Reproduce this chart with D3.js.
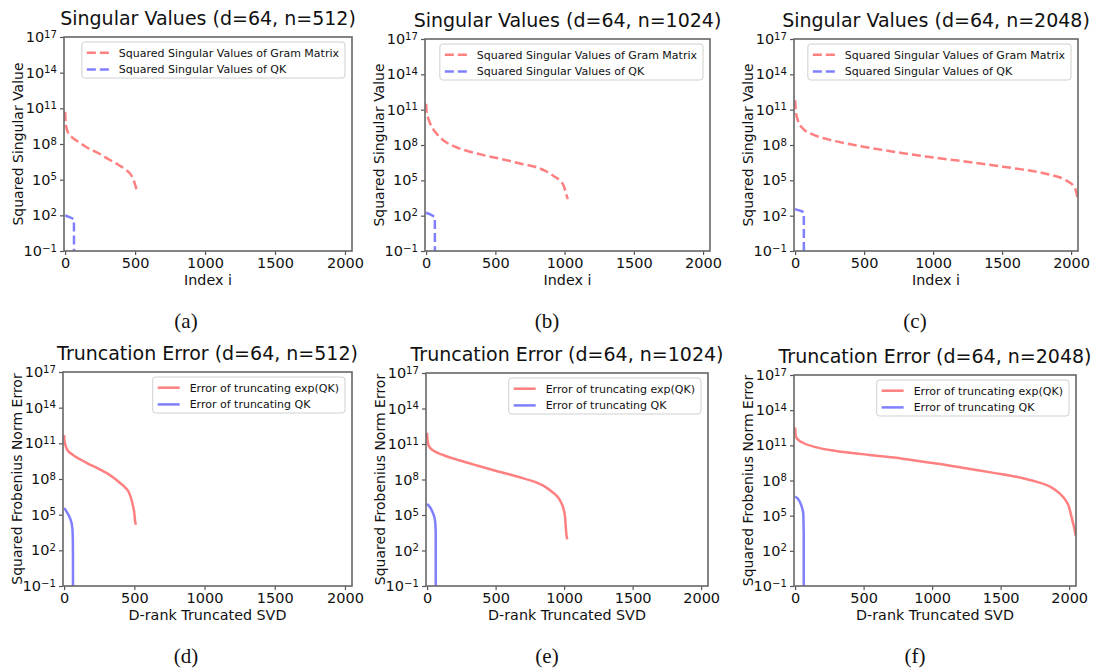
<!DOCTYPE html>
<html>
<head>
<meta charset="utf-8">
<script src="https://cdn.jsdelivr.net/npm/d3@7"></script>
<style>
  body { margin: 0; background: #fff; }
  svg { display: block; }
</style>
</head>
<body>
<svg id="fig" width="1093" height="668"></svg>
<script>
// --- DATA : [index, log10(value)] ---
const gramSV512 = [[0,10.7],[3,10.0],[8,9.45],[20,9.0],[50,8.55],[80,8.3],[150,7.75],[243,7.2],[314,6.7],[380,6.25],[432,5.85],[465,5.5],[485,5.1],[500,4.6],[511,4.1]];
const qkSV512 = [[0,2.0],[20,1.9],[40,1.8],[63,1.65],[64,-12]];

const gramSV1024 = [[0,11.5],[3,10.9],[12,10.4],[30,9.8],[48,9.4],[80,8.9],[119,8.45],[200,7.9],[310,7.45],[430,7.1],[548,6.8],[670,6.45],[786,6.15],[870,5.75],[929,5.3],[970,4.95],[995,4.5],[1012,3.8],[1023,3.4]];
const qkSV1024 = [[0,2.25],[30,2.1],[55,1.95],[63,1.9],[64,-12]];

const gramSV2048 = [[0,11.8],[3,11.2],[7,10.7],[20,10.1],[36,9.7],[60,9.35],[108,9.0],[170,8.7],[253,8.43],[360,8.15],[494,7.86],[640,7.57],[783,7.3],[960,7.0],[1145,6.73],[1330,6.45],[1506,6.16],[1640,5.93],[1747,5.74],[1840,5.5],[1916,5.26],[1970,4.95],[2012,4.6],[2035,4.1],[2047,3.5]];
const qkSV2048 = [[0,2.55],[30,2.45],[60,2.3],[63,2.25],[64,-12]];

const errExp512 = [[0,11.7],[2,11.3],[5,11.05],[12,10.75],[23,10.45],[60,10.05],[106,9.7],[170,9.3],[246,8.85],[310,8.45],[364,8.0],[405,7.6],[434,7.3],[460,6.9],[481,6.2],[493,5.6],[500,5.1],[505,4.5],[511,4.15]];
const errQK512 = [[0,5.57],[10,5.4],[20,5.2],[35,4.9],[48,4.5],[56,4.1],[60,3.6],[62,2.8],[63,1.5],[64,-12]];

const errExp1024 = [[0,11.95],[2,11.5],[5,11.15],[12,10.85],[29,10.59],[70,10.3],[125,10.03],[240,9.6],[364,9.18],[480,8.8],[604,8.42],[710,8.07],[796,7.76],[860,7.4],[916,6.92],[955,6.5],[983,5.93],[998,5.4],[1007,4.8],[1012,4.0],[1017,3.3],[1023,2.95]];
const errQK1024 = [[0,5.93],[15,5.75],[29,5.51],[45,5.1],[58,4.52],[62,3.9],[63,3.39],[64,-12]];

const errExp2048 = [[0,12.52],[2,12.1],[7,11.71],[25,11.45],[60,11.2],[150,10.85],[301,10.51],[540,10.18],[783,9.86],[1030,9.45],[1265,9.0],[1450,8.65],[1627,8.29],[1760,7.9],[1867,7.43],[1930,6.9],[1976,6.29],[2000,5.7],[2012,5.15],[2030,4.3],[2040,3.8],[2047,3.3]];
const errQK2048 = [[0,6.63],[20,6.45],[36,6.14],[50,5.7],[60,5.15],[62,4.0],[63,3.44],[64,-12]];

const svLegend = ["Squared Singular Values of Gram Matrix", "Squared Singular Values of QK"];
const errLegend = ["Error of truncating exp(QK)", "Error of truncating QK"];

const xTicks = [0, 500, 1000, 1500, 2000];
const yTickExps = [-1, 2, 5, 8, 11, 14, 17];

// couleurs (rouge / bleu avec alpha 0.5)
const colors = ["#ff8080", "#8080ff"];
const font = "'DejaVu Sans', sans-serif";

// --- MISE EN PAGE ---
const panels = [
  { l: 64, r: 352, t: 37, b: 251, title: "Singular Values (d=64, n=512)", ylab: "Squared Singular Value", xlab: "Index i", cap: "(a)", capX: 186, capY: 328, series: [gramSV512, qkSV512], legend: svLegend, dashed: true },
  { l: 425, r: 710, t: 39, b: 251, title: "Singular Values (d=64, n=1024)", ylab: "Squared Singular Value", xlab: "Index i", cap: "(b)", capX: 547, capY: 328, series: [gramSV1024, qkSV1024], legend: svLegend, dashed: true },
  { l: 794, r: 1078, t: 39, b: 251, title: "Singular Values (d=64, n=2048)", ylab: "Squared Singular Value", xlab: "Index i", cap: "(c)", capX: 915, capY: 328, series: [gramSV2048, qkSV2048], legend: svLegend, dashed: true },
  { l: 63, r: 352, t: 372, b: 586, title: "Truncation Error (d=64, n=512)", ylab: "Squared Frobenius Norm Error", xlab: "D-rank Truncated SVD", cap: "(d)", capX: 186, capY: 663, series: [errExp512, errQK512], legend: errLegend, dashed: false },
  { l: 426, r: 708, t: 373, b: 586, title: "Truncation Error (d=64, n=1024)", ylab: "Squared Frobenius Norm Error", xlab: "D-rank Truncated SVD", cap: "(e)", capX: 547, capY: 663, series: [errExp1024, errQK1024], legend: errLegend, dashed: false },
  { l: 794, r: 1076, t: 375, b: 586, title: "Truncation Error (d=64, n=2048)", ylab: "Squared Frobenius Norm Error", xlab: "D-rank Truncated SVD", cap: "(f)", capX: 915, capY: 663, series: [errExp2048, errQK2048], legend: errLegend, dashed: false }
];

const svg = d3.select("#fig");

panels.forEach((p, i) => drawPanel(p, i));

function drawPanel(p, i) {
  const x = d3.scaleLinear().domain([-8, 2050]).range([p.l, p.r]);
  const y = d3.scaleLog().domain([1e-1, 1e17]).range([p.b, p.t]);

  const g = svg.append("g");

  g.append("clipPath").attr("id", "clip" + i)
    .append("rect")
    .attr("x", p.l).attr("y", p.t)
    .attr("width", p.r - p.l).attr("height", p.b - p.t);

  // courbes
  const line = d3.line()
    .x(d => x(d[0]))
    .y(d => y(Math.pow(10, d[1])))
    .curve(d3.curveMonotoneX);

  p.series.forEach((s, k) => {
    g.append("path")
      .datum(s)
      .attr("clip-path", `url(#clip${i})`)
      .attr("fill", "none")
      .attr("stroke", colors[k])
      .attr("stroke-width", 2.5)
      .attr("stroke-dasharray", p.dashed ? "9,4" : null)
      .attr("d", line);
  });

  // axes
  const xAxis = g.append("g")
    .attr("transform", `translate(0,${p.b})`)
    .call(d3.axisBottom(x).tickValues(xTicks).tickFormat(d3.format("d"))
      .tickSize(4).tickPadding(3).tickSizeOuter(0));

  const yAxis = g.append("g")
    .attr("transform", `translate(${p.l},0)`)
    .call(d3.axisLeft(y).tickValues(yTickExps.map(e => Math.pow(10, e)))
      .tickSize(4).tickPadding(3).tickSizeOuter(0));

  yAxis.selectAll(".tick text").each(function(d) {
    const e = Math.round(Math.log10(d));
    const t = d3.select(this).text(null);
    t.append("tspan").text("10");
    t.append("tspan").attr("dy", "-0.45em").attr("font-size", "0.7em")
      .text(e < 0 ? "\u2212" + (-e) : e);
  });

  [xAxis, yAxis].forEach(a => {
    a.selectAll("text").attr("font-family", font).attr("font-size", 14.5).attr("fill", "#111");
    a.selectAll("line").attr("stroke", "#555").attr("stroke-width", 1.2);
    a.select(".domain").remove();
  });

  // cadre
  g.append("rect")
    .attr("x", p.l).attr("y", p.t)
    .attr("width", p.r - p.l).attr("height", p.b - p.t)
    .attr("fill", "none").attr("stroke", "#666").attr("stroke-width", 1.6);

  // textes
  g.append("text")
    .attr("x", (p.l + p.r) / 2).attr("y", p.t - 12)
    .attr("text-anchor", "middle")
    .attr("font-family", font).attr("font-size", 19).attr("fill", "#111")
    .text(p.title);

  g.append("text")
    .attr("transform", `translate(${p.l - 41},${(p.t + p.b) / 2}) rotate(-90)`)
    .attr("text-anchor", "middle")
    .attr("font-family", font).attr("font-size", 14).attr("fill", "#111")
    .text(p.ylab);

  g.append("text")
    .attr("x", (p.l + p.r) / 2).attr("y", p.b + 34)
    .attr("text-anchor", "middle")
    .attr("font-family", font).attr("font-size", 14.3).attr("fill", "#111")
    .text(p.xlab);

  g.append("text")
    .attr("x", p.capX).attr("y", p.capY)
    .attr("text-anchor", "middle")
    .attr("font-family", "'Liberation Serif', 'Times New Roman', serif")
    .attr("font-size", 21).attr("fill", "#111")
    .text(p.cap);

  // légende
  const leg = g.append("g");
  const box = leg.append("rect");
  const texts = p.legend.map((name, k) =>
    leg.append("text")
      .attr("y", 10.7 + k * 16.7)
      .attr("dy", "0.35em")
      .attr("font-family", font).attr("font-size", 11).attr("fill", "#111")
      .text(name));
  const w = d3.max(texts, t => t.node().getComputedTextLength()) + 43;
  const lx = p.r - 7 - w, ly = p.t + 5;
  leg.attr("transform", `translate(${lx},${ly})`);
  box.attr("width", w).attr("height", 36).attr("rx", 3)
    .attr("fill", "#fff").attr("fill-opacity", 0.8)
    .attr("stroke", "#d0d0d0").attr("stroke-width", 1);
  texts.forEach(t => t.attr("x", 37));
  p.legend.forEach((name, k) => {
    leg.append("line")
      .attr("x1", 5).attr("x2", 27)
      .attr("y1", 10.7 + k * 16.7).attr("y2", 10.7 + k * 16.7)
      .attr("stroke", colors[k]).attr("stroke-width", 2.5)
      .attr("stroke-dasharray", p.dashed ? "9,4" : null);
  });
}
</script>
</body>
</html>
